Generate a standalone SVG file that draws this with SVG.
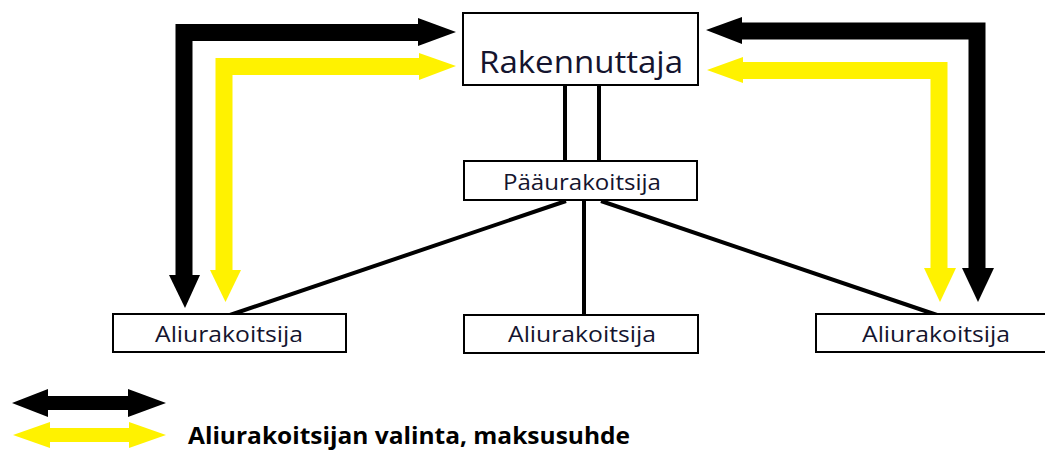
<svg xmlns="http://www.w3.org/2000/svg" width="1045" height="450" viewBox="0 0 1045 450">
<style>
.box{fill:#fff;stroke:#000;stroke-width:2}
.lbl{font-family:"Open Sans","Liberation Sans",sans-serif;fill:#14142e}
.blk{fill:none;stroke:#000;stroke-width:17;stroke-linejoin:miter}
.yel{fill:none;stroke:#fff200;stroke-width:17;stroke-linejoin:miter}
.hb{fill:#000}
.hy{fill:#fff200}
.ln{stroke:#000;stroke-width:4;fill:none}
</style>
<rect width="1045" height="450" fill="#fff"/>
<g id="connectors">
  <line class="ln" x1="565" y1="86" x2="565" y2="161"/>
  <line class="ln" x1="599" y1="86" x2="599" y2="161"/>
  <line class="ln" x1="566" y1="201" x2="230" y2="315"/>
  <line class="ln" x1="584" y1="201" x2="584" y2="315"/>
  <line class="ln" x1="601" y1="201" x2="937" y2="315"/>
  <polyline class="blk" points="184,276 184,32.5 419,32.5"/>
  <polygon class="hb" points="418,18 456,32 418,46"/>
  <polygon class="hb" points="169,275 200,275 185,308"/>
  <polyline class="yel" points="224,271 224,66.5 420,66.5"/>
  <polygon class="hy" points="419,53 456,66 419,80"/>
  <polygon class="hy" points="210,270 241,270 225.5,302"/>
  <polyline class="blk" points="977,269 977,31 741,31"/>
  <polygon class="hb" points="742,17 706,30 742,44"/>
  <polygon class="hb" points="962,268 994,268 978,302"/>
  <polyline class="yel" points="939,269 939,70.5 742,70.5"/>
  <polygon class="hy" points="743,57 707,70 743,83"/>
  <polygon class="hy" points="924,268 956,268 940,302"/>
</g>
<g id="rakennuttaja">
  <rect class="box" x="463" y="13" width="235" height="72"/>
  <text class="lbl" x="479" y="73" font-size="31" textLength="204" lengthAdjust="spacingAndGlyphs">Rakennuttaja</text>
</g>
<g id="paaurakoitsija">
  <rect class="box" x="464" y="161" width="233" height="39"/>
  <text class="lbl" x="503" y="190" font-size="22" textLength="158" lengthAdjust="spacingAndGlyphs">Pääurakoitsija</text>
</g>
<g id="aliurakoitsija-1">
  <rect class="box" x="113" y="314" width="233" height="38"/>
  <text class="lbl" x="155" y="342" font-size="21" textLength="148" lengthAdjust="spacingAndGlyphs">Aliurakoitsija</text>
</g>
<g id="aliurakoitsija-2">
  <rect class="box" x="464" y="315" width="234" height="38"/>
  <text class="lbl" x="508" y="342" font-size="21" textLength="148" lengthAdjust="spacingAndGlyphs">Aliurakoitsija</text>
</g>
<g id="aliurakoitsija-3">
  <rect class="box" x="816" y="314" width="240" height="38"/>
  <text class="lbl" x="862" y="342" font-size="21" textLength="148" lengthAdjust="spacingAndGlyphs">Aliurakoitsija</text>
</g>
<g id="legend">
  <rect x="47" y="396" width="82" height="14" fill="#000"/>
  <polygon class="hb" points="48,389 12,403 48,417"/>
  <polygon class="hb" points="128,389 166,403 128,417"/>
  <rect x="49" y="428" width="81" height="14" fill="#fff200"/>
  <polygon class="hy" points="50,422 13,435 50,448"/>
  <polygon class="hy" points="129,422 166,435 129,448"/>
  <text x="188" y="444" font-family="'Open Sans','Liberation Sans',sans-serif" font-weight="bold" font-size="23" fill="#000" textLength="442" lengthAdjust="spacingAndGlyphs">Aliurakoitsijan valinta, maksusuhde</text>
</g>
</svg>
